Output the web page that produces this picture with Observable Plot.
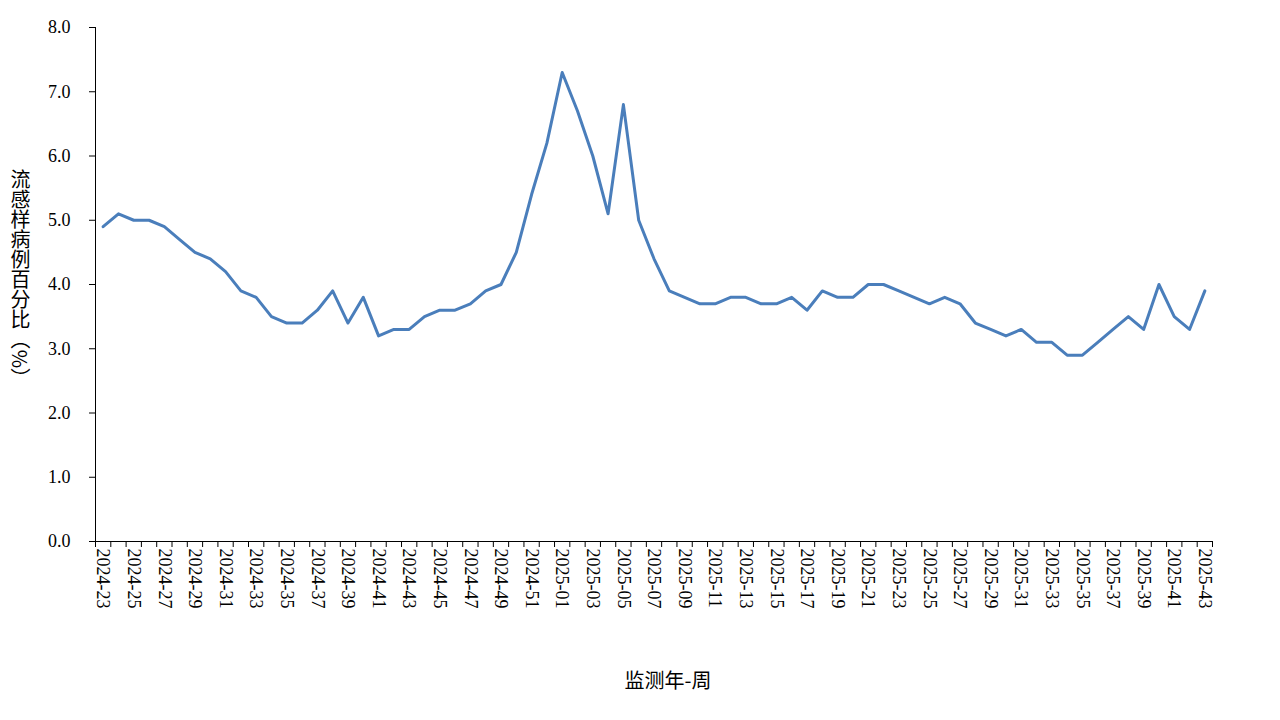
<!DOCTYPE html>
<html><head><meta charset="utf-8">
<script src="https://cdn.jsdelivr.net/npm/d3@7"></script>
<script src="https://cdn.jsdelivr.net/npm/@observablehq/plot@0.6"></script>
<style>
body{margin:0;background:#fff;}
</style>
</head><body><div id="chart"></div>
<script>
const weeks = [
  "2024-23","2024-24","2024-25","2024-26","2024-27","2024-28","2024-29","2024-30","2024-31","2024-32",
  "2024-33","2024-34","2024-35","2024-36","2024-37","2024-38","2024-39","2024-40","2024-41","2024-42",
  "2024-43","2024-44","2024-45","2024-46","2024-47","2024-48","2024-49","2024-50","2024-51","2024-52",
  "2025-01","2025-02","2025-03","2025-04","2025-05","2025-06","2025-07","2025-08","2025-09","2025-10",
  "2025-11","2025-12","2025-13","2025-14","2025-15","2025-16","2025-17","2025-18","2025-19","2025-20",
  "2025-21","2025-22","2025-23","2025-24","2025-25","2025-26","2025-27","2025-28","2025-29","2025-30",
  "2025-31","2025-32","2025-33","2025-34","2025-35","2025-36","2025-37","2025-38","2025-39","2025-40",
  "2025-41","2025-42","2025-43"
];
const values = [
  4.9,5.1,5.0,5.0,4.9,4.7,4.5,4.4,4.2,3.9,
  3.8,3.5,3.4,3.4,3.6,3.9,3.4,3.8,3.2,3.3,
  3.3,3.5,3.6,3.6,3.7,3.9,4.0,4.5,5.4,6.2,
  7.3,6.7,6.0,5.1,6.8,5.0,4.4,3.9,3.8,3.7,
  3.7,3.8,3.8,3.7,3.7,3.8,3.6,3.9,3.8,3.8,
  4.0,4.0,3.9,3.8,3.7,3.8,3.7,3.4,3.3,3.2,
  3.3,3.1,3.1,2.9,2.9,3.1,3.3,3.5,3.3,4.0,
  3.5,3.3,3.9
];
const yTicks = [0,1,2,3,4,5,6,7,8];
const yTitle = "流感样病例百分比（%）";
const xTitle = "监测年-周";

const data = weeks.map((w, i) => ({i, week: w, value: values[i]}));
const boundaries = d3.range(weeks.length + 1).map(k => k - 0.5);
const labelIdx = d3.range(0, weeks.length, 2);

const serif = "'Liberation Serif', 'DejaVu Serif', serif";
const cjk = "'Noto Sans CJK SC', sans-serif";

const chart = Plot.plot({
  width: 1280, height: 720,
  marginLeft: 95, marginRight: 68, marginTop: 27, marginBottom: 179,
  style: {fontSize: "18px", color: "#000", background: "#fff"},
  x: {type: "linear", domain: [-0.5, weeks.length - 0.5]},
  y: {domain: [0, 8]},
  marks: [
    Plot.ruleX([-0.5], {stroke: "#000", strokeWidth: 1}),
    Plot.ruleY([0], {stroke: "#000", strokeWidth: 1}),
    Plot.axisY({ticks: yTicks, tickFormat: d => d.toFixed(1), tickSize: 6, tickPadding: 19, label: null, stroke: "#000", strokeOpacity: 1, fontSize: 18, className: "serif"}),
    Plot.axisX({ticks: boundaries, tickFormat: () => "", tickSize: 6, label: null, stroke: "#000", strokeOpacity: 1}),
    Plot.axisX({ticks: labelIdx, tickFormat: i => weeks[i], tickSize: 0, tickPadding: 7, tickRotate: 90, label: null, fontSize: 18, className: "serif"}),
    Plot.line(data, {x: "i", y: "value", stroke: "#4a7ebb", strokeWidth: 3}),
    Plot.text([yTitle], {frameAnchor: "left", dx: -75, dy: -12, textAnchor: "middle", fontSize: 20, className: "ytitle"}),
    Plot.text([xTitle], {frameAnchor: "bottom", dx: 14, dy: 146, textAnchor: "middle", fontSize: 20, className: "xtitle"})
  ]
});
document.getElementById("chart").appendChild(chart);
const svg = d3.select(chart);
svg.selectAll(".serif text").style("font-family", serif);
svg.selectAll(".serif").style("font-family", serif).attr("font-family", serif);
svg.selectAll(".xtitle, .xtitle text").style("font-family", cjk);
svg.selectAll(".ytitle, .ytitle text").style("font-family", cjk);
svg.selectAll(".ytitle text")
  .style("writing-mode", "vertical-rl")
  .style("text-orientation", "mixed")
  .attr("dy", null);
</script>
</body></html>
